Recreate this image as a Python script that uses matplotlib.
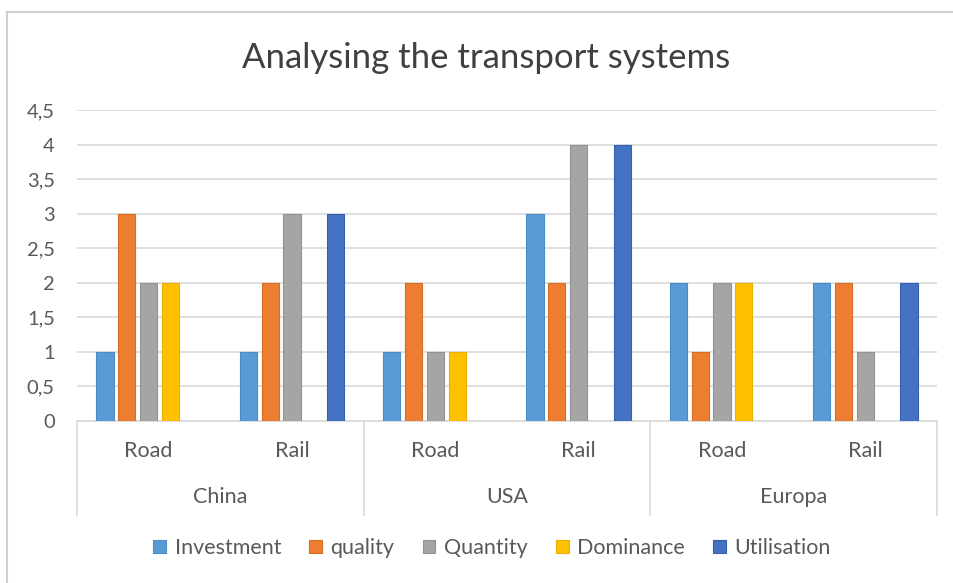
import numpy as np
import matplotlib
matplotlib.use("Agg")
import matplotlib.pyplot as plt
from matplotlib.lines import Line2D
from matplotlib.patches import Patch
import matplotlib.transforms as mtransforms

plt.rcParams['font.family'] = ['Lato', 'DejaVu Sans']

# Data
countries = ["China", "USA", "Europa"]
modes = ["Road", "Rail", "Road", "Rail", "Road", "Rail"]
series = ["Investment", "quality", "Quantity", "Dominance", "Utilisation"]
investment = [1, 1, 1, 3, 2, 2]
quality = [3, 2, 2, 2, 1, 2]
quantity = [2, 3, 1, 4, 2, 1]
dominance = [2, np.nan, 1, np.nan, 2, np.nan]
utilisation = [np.nan, 3, np.nan, 4, np.nan, 2]
yticks = [0, 0.5, 1, 1.5, 2, 2.5, 3, 3.5, 4, 4.5]
ytick_labels = ["0", "0,5", "1", "1,5", "2", "2,5", "3", "3,5", "4", "4,5"]

values = [investment, quality, quantity, dominance, utilisation]
colors = ["#5B9BD5", "#ED7D31", "#A5A5A5", "#FFC000", "#4472C4"]
edges = ["#4a8bc8", "#d86c22", "#939393", "#eab000", "#3761b0"]

text_col = "#595959"
grid_col = "#d9d9d9"

fig = plt.figure(figsize=(9.54, 5.83), dpi=100)
ax = fig.add_axes([77 / 954, 1 - 421 / 583, (937 - 77) / 954, (421 - 110) / 583])

x = np.arange(len(modes))
slot = 0.152
width = 0.12
for i, (vals, c, ec) in enumerate(zip(values, colors, edges)):
    ax.bar(x + (i - 2) * slot, vals, width, color=c, edgecolor=ec,
           linewidth=0.8, zorder=3, label=series[i])

ax.set_xlim(-0.5, len(modes) - 0.5)
ax.set_ylim(0, 4.5)
ax.set_yticks(yticks)
ax.set_yticklabels(ytick_labels, fontsize=14.5, color=text_col)
ax.tick_params(axis='y', length=0, pad=16)
ax.set_xticks([])
ax.yaxis.grid(True, color=grid_col, linewidth=1.2, zorder=0)
ax.set_axisbelow(True)
for s in ["top", "right", "left"]:
    ax.spines[s].set_visible(False)
ax.spines["bottom"].set_color(grid_col)
ax.spines["bottom"].set_linewidth(1.2)

# Two-level category axis
trans = mtransforms.blended_transform_factory(ax.transData, ax.transAxes)
for xs in [-0.5, 1.5, 3.5, 5.5]:
    ax.add_line(Line2D([xs, xs], [0, -0.302], transform=trans, color=grid_col,
                       linewidth=1.2, clip_on=False))
for xi, m in zip(x, modes):
    ax.text(xi, -0.0965, m, transform=trans, ha='center', va='center',
            fontsize=15.5, color=text_col)
for ci, c in enumerate(countries):
    ax.text(2 * ci + 0.5, -0.244, c, transform=trans, ha='center', va='center',
            fontsize=15.5, color=text_col)

fig.text(486 / 954, 1 - 58 / 583, "Analysing the transport systems",
         ha='center', va='center', fontsize=25, color="#404040")

handles = [Patch(facecolor=c, edgecolor=ec, linewidth=0.8) for c, ec in zip(colors, edges)]
fig.legend(handles, series, loc='center', bbox_to_anchor=(492 / 954, 1 - 548 / 583),
           ncol=5, frameon=False, fontsize=15.5, labelcolor=text_col,
           handlelength=0.6, handleheight=0.6, handletextpad=0.4,
           columnspacing=1.3)

# Chart frame (top and left edges)
fig.add_artist(Line2D([7.5 / 954, 7.5 / 954], [0, 1 - 12 / 583], transform=fig.transFigure,
                      color="#d0d0d0", linewidth=1.5))
fig.add_artist(Line2D([7.5 / 954, 1], [1 - 12 / 583, 1 - 12 / 583], transform=fig.transFigure,
                      color="#d0d0d0", linewidth=1.5))

fig.savefig("out.png", dpi=100, facecolor="white")
